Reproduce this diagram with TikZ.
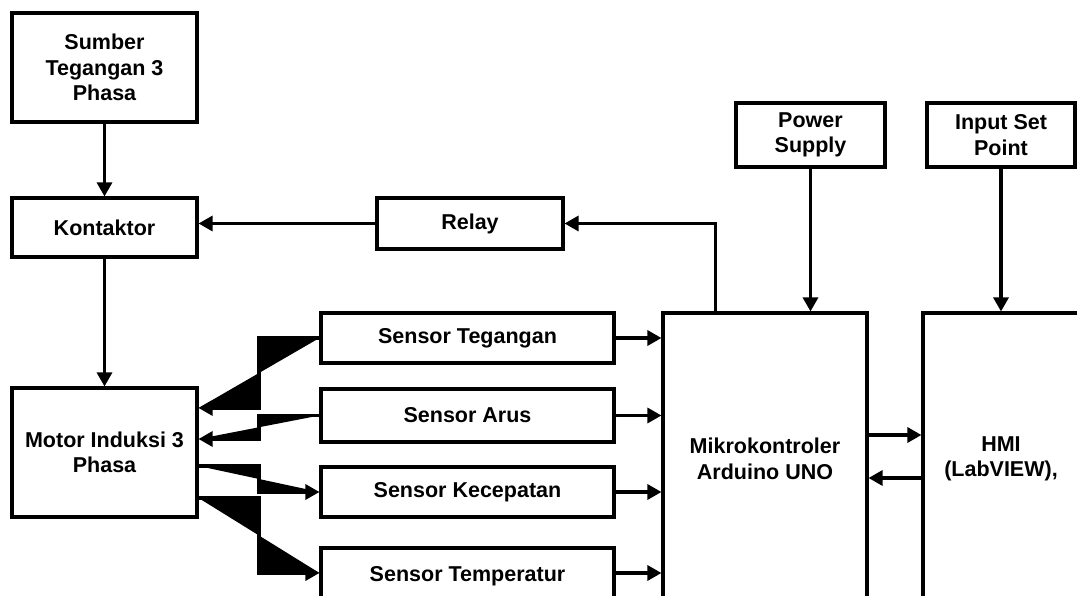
\documentclass[tikz,border=0pt]{standalone}
\usepackage{fontspec}
\setmainfont{Liberation Sans}
\usetikzlibrary{arrows.meta}

\begin{document}
\begin{tikzpicture}[
    x=1pt, y=-1pt,
    font=\fontsize{21.5}{25.5}\selectfont\bfseries,
    box/.style={draw=black, text=black, line width=3.1pt, align=center, inner sep=2pt},
    flow/.style={draw=black, line width=3.1pt, -{Triangle[length=14pt, width=15pt]}},
    wedge/.style={fill=black}
]
\clip (0,0) rectangle (1077,596);

\node[box, minimum width=185pt, minimum height=109pt] (sumber) at (104.5,67.5) {Sumber\\Tegangan 3\\Phasa};
\node[box, minimum width=185pt, minimum height=59pt] (kontaktor) at (104.5,227.5) {Kontaktor};
\node[box, minimum width=185pt, minimum height=129pt] (motor) at (104.5,452.5) {Motor Induksi 3\\Phasa};
\node[box, minimum width=186pt, minimum height=51pt] (relay) at (470,223.5) {Relay};

\node[box, minimum width=293pt, minimum height=50pt] (tegangan) at (467.5,338) {Sensor Tegangan};
\node[box, minimum width=293pt, minimum height=53pt] (arus) at (467.5,415.5) {Sensor Arus};
\node[box, minimum width=293pt, minimum height=50pt] (kecepatan) at (467.5,492) {Sensor Kecepatan};
\node[box, minimum width=293pt, minimum height=56pt] (temperatur) at (467.5,576) {Sensor Temperatur};

\node[box, minimum width=149pt, minimum height=64pt] (power) at (810.5,135) {Power\\Supply};
\node[box, minimum width=148pt, minimum height=64pt] (setpoint) at (1001,135) {Input Set\\Point};
\node[box, minimum width=204pt, minimum height=292pt] (mikro) at (765,459) {Mikrokontroler\\Arduino UNO};
\node[box, minimum width=156pt, minimum height=292pt] (hmi) at (1001,459) {HMI\\(LabVIEW),};

\draw[flow] (sumber) -- (kontaktor);
\draw[flow] (kontaktor) -- (motor);
\draw[flow] (relay.west) -- (relay.west -| kontaktor.east);
\coordinate (mkout) at ([xshift=54pt]mikro.north west);
\draw[flow] (mkout) |- (relay.east);
\draw[flow] (power.south) -- (power.south |- mikro.north);
\draw[flow] (setpoint.south) -- (setpoint.south |- hmi.north);

\draw[flow] (tegangan.east) -- (tegangan.east -| mikro.west);
\draw[flow] (arus.east) -- (arus.east -| mikro.west);
\draw[flow] (kecepatan.east) -- (kecepatan.east -| mikro.west);
\draw[flow] ([yshift=3pt]temperatur.east) -- ([yshift=3pt]temperatur.east -| mikro.west);
\draw[flow] ([yshift=24pt]mikro.east) -- ([yshift=24pt]hmi.west);
\draw[flow] ([yshift=-19pt]hmi.west) -- ([yshift=-19pt]mikro.east);

% motor <-> sensor connectors
\coordinate (mid) at (259,0);
\coordinate (mot1) at ([yshift=44.5pt]motor.east);
\coordinate (mot2) at ([yshift=13.5pt]motor.east);
\coordinate (mot3) at ([yshift=-13.5pt]motor.east);
\coordinate (mot4) at ([yshift=-45.5pt]motor.east);
\coordinate (tmp) at ([yshift=3pt]temperatur.west);

\fill[wedge] (tegangan.west) -- (tegangan.west -| mid) -- (mot1 -| mid) -- (mot1) -- cycle;
\draw[flow] (tegangan.west) -- (tegangan.west -| mid) -- (mot1 -| mid) -- (mot1);
\fill[wedge] (arus.west) -- (arus.west -| mid) -- (mot2 -| mid) -- (mot2) -- cycle;
\draw[flow] (arus.west) -- (arus.west -| mid) -- (mot2 -| mid) -- (mot2);
\fill[wedge] (mot3) -- (mot3 -| mid) -- (kecepatan.west -| mid) -- (kecepatan.west) -- cycle;
\draw[flow] (mot3) -- (mot3 -| mid) -- (kecepatan.west -| mid) -- (kecepatan.west);
\fill[wedge] (mot4) -- (mot4 -| mid) -- (tmp -| mid) -- (tmp) -- cycle;
\draw[flow] (mot4) -- (mot4 -| mid) -- (tmp -| mid) -- (tmp);
\end{tikzpicture}
\end{document}
